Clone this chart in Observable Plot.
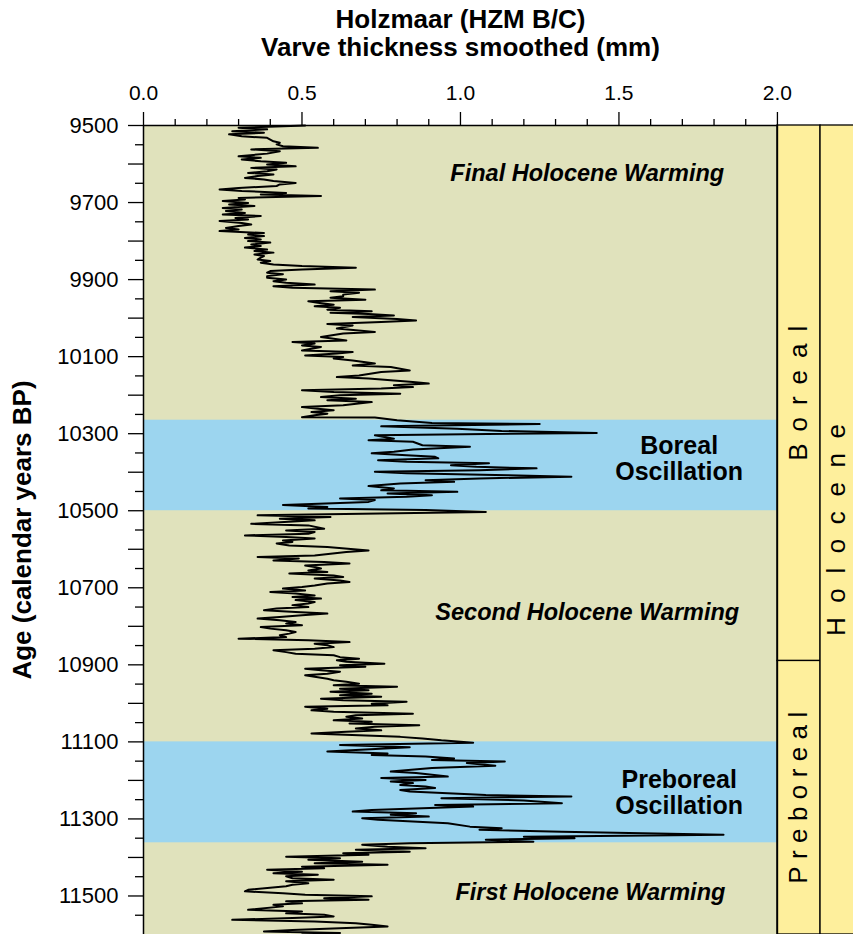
<!DOCTYPE html>
<html><head><meta charset="utf-8">
<script src="https://cdn.jsdelivr.net/npm/d3@7"></script>
<script src="https://cdn.jsdelivr.net/npm/@observablehq/plot@0.6"></script>
<style>
body{margin:0;background:#fff;}
#chart svg{display:block;}
</style></head><body><div id="chart"></div>
<script>
// ---- data: [age (calendar years BP), smoothed varve thickness (mm)] ----
const finalWarming = [[9500,0.51],[9506,0.30],[9510,0.39],[9515,0.28],[9519,0.38],[9523,0.27],[9528,0.31],[9532,0.39],[9541,0.41],[9545,0.43],[9549,0.42],[9554,0.44],[9558,0.55],[9562,0.34],[9567,0.43],[9573,0.39],[9580,0.30],[9584,0.37],[9588,0.31],[9593,0.37],[9597,0.45],[9601,0.39],[9606,0.48],[9610,0.34],[9614,0.42],[9619,0.39],[9623,0.33],[9627,0.41],[9631,0.36],[9636,0.32],[9640,0.38],[9644,0.41],[9649,0.48],[9653,0.43],[9657,0.42],[9662,0.30],[9666,0.24],[9670,0.31],[9675,0.45],[9679,0.37],[9683,0.56],[9688,0.30],[9692,0.32],[9696,0.25],[9701,0.33],[9705,0.27],[9709,0.35],[9714,0.25],[9718,0.31],[9722,0.26],[9727,0.32],[9731,0.25],[9735,0.37],[9740,0.29],[9744,0.33],[9748,0.24],[9753,0.31],[9757,0.34],[9761,0.30],[9766,0.26],[9770,0.30],[9774,0.24],[9779,0.38],[9783,0.33],[9787,0.38],[9792,0.32],[9796,0.37],[9800,0.33],[9804,0.40],[9809,0.34],[9813,0.37],[9817,0.32],[9822,0.39],[9826,0.35],[9830,0.41],[9835,0.35],[9839,0.38],[9843,0.37],[9848,0.36],[9852,0.40],[9856,0.37],[9861,0.41],[9865,0.50],[9869,0.67],[9874,0.50],[9878,0.40],[9882,0.39],[9886,0.44],[9891,0.39],[9895,0.39],[9900,0.45],[9904,0.41],[9908,0.45],[9913,0.54],[9917,0.41],[9921,0.47],[9926,0.73],[9930,0.59],[9934,0.68],[9939,0.63],[9943,0.63],[9947,0.59],[9952,0.70],[9956,0.52],[9960,0.55],[9965,0.60],[9969,0.54],[9973,0.62],[9978,0.58],[9982,0.72],[9986,0.59],[9989,0.71],[9993,0.79],[9997,0.66],[10002,0.80],[10006,0.86],[10010,0.75],[10015,0.58],[10019,0.66],[10027,0.61],[10036,0.73],[10040,0.63],[10049,0.56],[10058,0.64],[10062,0.47],[10066,0.54],[10071,0.50],[10075,0.56],[10084,0.50],[10088,0.66],[10092,0.61],[10097,0.51],[10101,0.63],[10105,0.60],[10110,0.66],[10118,0.73],[10123,0.66],[10127,0.78],[10136,0.84],[10140,0.75],[10149,0.68],[10153,0.61],[10157,0.71],[10162,0.79],[10166,0.85],[10170,0.90],[10174,0.79],[10179,0.85],[10183,0.75],[10187,0.50],[10192,0.60],[10196,0.81],[10200,0.62],[10205,0.56],[10209,0.67],[10213,0.58],[10218,0.72],[10226,0.63],[10231,0.50],[10235,0.55],[10239,0.60],[10244,0.53],[10248,0.58],[10252,0.54],[10257,0.50]];
const borealOscillation = [[10258,0.73],[10265,0.80],[10272,0.91],[10275,1.25],[10281,0.75],[10287,0.99],[10293,1.13],[10298,1.43],[10304,0.73],[10313,0.79],[10317,0.71],[10321,0.85],[10330,0.88],[10334,1.03],[10341,0.85],[10347,0.79],[10351,0.72],[10356,0.83],[10360,0.92],[10364,0.93],[10369,0.74],[10373,0.83],[10377,1.09],[10382,0.97],[10386,1.05],[10390,1.24],[10395,1.06],[10399,0.73],[10403,0.83],[10408,1.15],[10412,1.35],[10416,1.06],[10421,0.89],[10425,0.98],[10429,0.81],[10436,0.71],[10442,0.79],[10447,0.75],[10451,0.99],[10455,0.77],[10460,0.91],[10464,0.83],[10468,0.62],[10472,0.73],[10477,0.71],[10485,0.44],[10490,0.58],[10494,0.52],[10498,0.89],[10503,1.08]];
const secondWarming = [[10508,0.69],[10512,0.36],[10516,0.59],[10521,0.43],[10525,0.54],[10534,0.34],[10538,0.52],[10547,0.57],[10551,0.45],[10555,0.54],[10560,0.52],[10564,0.32],[10568,0.45],[10572,0.54],[10577,0.44],[10581,0.47],[10585,0.42],[10590,0.46],[10594,0.58],[10603,0.71],[10607,0.64],[10616,0.54],[10620,0.36],[10624,0.49],[10629,0.41],[10633,0.57],[10637,0.65],[10642,0.51],[10646,0.54],[10650,0.56],[10655,0.52],[10659,0.58],[10663,0.46],[10668,0.60],[10672,0.63],[10676,0.54],[10681,0.62],[10685,0.65],[10689,0.58],[10694,0.54],[10698,0.50],[10702,0.44],[10707,0.51],[10711,0.40],[10715,0.48],[10720,0.54],[10724,0.47],[10728,0.56],[10732,0.48],[10737,0.54],[10741,0.52],[10745,0.47],[10750,0.52],[10754,0.42],[10758,0.38],[10763,0.48],[10767,0.58],[10771,0.50],[10776,0.43],[10780,0.36],[10784,0.43],[10789,0.48],[10793,0.45],[10797,0.50],[10802,0.37],[10806,0.40],[10810,0.45],[10815,0.48],[10819,0.46],[10823,0.43],[10828,0.45],[10832,0.30],[10836,0.52],[10841,0.65],[10845,0.54],[10849,0.58],[10854,0.60],[10858,0.54],[10862,0.41],[10867,0.45],[10871,0.48],[10875,0.60],[10880,0.62],[10884,0.68],[10888,0.61],[10892,0.64],[10897,0.76],[10901,0.62],[10905,0.70],[10910,0.51],[10914,0.56],[10918,0.62],[10923,0.58],[10927,0.51],[10931,0.54],[10936,0.58],[10940,0.60],[10944,0.64],[10949,0.68],[10953,0.60],[10957,0.80],[10962,0.62],[10966,0.71],[10970,0.59],[10975,0.72],[10979,0.62],[10983,0.75],[10988,0.56],[10992,0.63],[10996,0.83],[11001,0.72],[11005,0.77],[11009,0.51],[11014,0.58],[11018,0.53],[11022,0.60],[11027,0.85],[11031,0.67],[11035,0.64],[11039,0.69],[11044,0.60],[11048,0.72],[11052,0.65],[11057,0.87],[11061,0.73],[11065,0.67],[11070,0.75],[11074,0.64],[11078,0.53],[11083,0.68],[11087,0.81],[11091,0.88]];
const preborealOscillation = [[11096,0.94],[11102,1.04],[11108,0.62],[11114,0.84],[11121,0.67],[11125,0.58],[11130,0.77],[11134,0.72],[11138,0.89],[11143,0.98],[11147,0.91],[11151,1.14],[11155,1.02],[11162,1.11],[11168,0.91],[11177,0.78],[11181,0.86],[11190,0.96],[11194,0.75],[11199,0.89],[11203,0.78],[11207,0.85],[11212,0.81],[11216,0.89],[11220,0.92],[11225,0.81],[11229,0.84],[11238,1.08],[11242,1.35],[11246,0.94],[11252,1.20],[11259,1.32],[11264,0.92],[11268,1.04],[11277,0.72],[11281,0.66],[11285,0.86],[11289,0.78],[11294,0.90],[11298,0.69],[11302,0.74],[11311,0.96],[11320,1.03],[11324,1.13],[11328,1.06],[11333,1.32],[11341,1.83],[11346,1.20],[11350,1.36],[11354,1.08],[11359,1.23],[11363,0.84]];
const firstWarming = [[11367,0.69],[11372,0.77],[11376,0.89],[11380,0.67],[11385,0.84],[11389,0.63],[11393,0.71],[11398,0.45],[11402,0.62],[11406,0.52],[11411,0.69],[11415,0.54],[11419,0.77],[11424,0.50],[11428,0.57],[11432,0.39],[11437,0.50],[11441,0.41],[11445,0.55],[11449,0.45],[11454,0.47],[11458,0.60],[11462,0.45],[11467,0.52],[11471,0.47],[11475,0.45],[11484,0.33],[11488,0.32],[11493,0.44],[11497,0.51],[11501,0.72],[11506,0.57],[11510,0.71],[11514,0.45],[11519,0.50],[11523,0.41],[11527,0.44],[11536,0.33],[11540,0.50],[11545,0.45],[11549,0.57],[11553,0.60],[11557,0.47],[11562,0.28],[11566,0.54],[11571,0.67],[11575,0.72],[11579,0.77],[11583,0.64],[11588,0.47],[11592,0.38],[11596,0.62],[11600,0.50]];

const oscillations = [{name: "Boreal Oscillation", start: 10265, end: 10500}, {name: "Preboreal Oscillation", start: 11100, end: 11362}];
const chronozones = [{name: "Boreal", start: 9500, end: 10890}, {name: "Preboreal", start: 10890, end: 11600}];
const epochs = [{name: "Holocene", start: 9500, end: 11600}];
const annotations = [
  {label: "Final Holocene Warming", x: 1.40, age: 9625, italic: true},
  {label: "Boreal\nOscillation", x: 1.69, age: 10366, italic: false},
  {label: "Second Holocene Warming", x: 1.40, age: 10763, italic: true},
  {label: "Preboreal\nOscillation", x: 1.69, age: 11233, italic: false},
  {label: "First Holocene Warming", x: 1.41, age: 11492, italic: true}
];
const xMajorTicks = [0, 0.5, 1.0, 1.5, 2.0];
const xMinorTicks = [0.1,0.2,0.3,0.4,0.6,0.7,0.8,0.9,1.1,1.2,1.3,1.4,1.6,1.7,1.8,1.9];
const yMajorTicks = [9500,9600,9700,9800,9900,10000,10100,10200,10300,10400,10500,10600,10700,10800,10900,11000,11100,11200,11300,11400,11500];
const yMinorTicks = [9550,9650,9750,9850,9950,10050,10150,10250,10350,10450,10550,10650,10750,10850,10950,11050,11150,11250,11350,11450,11550];
const yTickLabels = [9500,9700,9900,10100,10300,10500,10700,10900,11100,11300,11500];
const titleLines = ["Holzmaar (HZM B/C)", "Varve thickness smoothed (mm)"];
const yTitle = "Age (calendar years BP)";

// ---- layout / style ----
const ageMin = 9500, ageMax = 11600, xMax = 2.0;
const colSplit = 2.136, colEnd = 2.3;
const olive = "#e0e2bc", blue = "#9cd5ef", yellow = "#feef9c";
const font = "Liberation Sans, Arial, Helvetica, sans-serif";
const varve = [...finalWarming, ...borealOscillation, ...secondWarming, ...preborealOscillation, ...firstWarming];

const plot = Plot.plot({
  width: 853, height: 934,
  marginTop: 125, marginLeft: 143, marginRight: 0, marginBottom: 0,
  style: {fontFamily: font, background: "white", color: "black", overflow: "visible"},
  x: {domain: [0, 2.24], axis: null},
  y: {domain: [ageMin, ageMax], reverse: true, axis: null},
  marks: [
    Plot.rect([0], {x1: () => 0, x2: () => xMax, y1: () => ageMin, y2: () => ageMax, fill: olive}),
    Plot.rect(oscillations, {x1: () => 0, x2: () => xMax, y1: "start", y2: "end", fill: blue}),
    Plot.rect(chronozones, {x1: () => xMax, x2: () => colSplit, y1: "start", y2: "end", fill: yellow, stroke: "black", strokeWidth: 1.3}),
    Plot.rect(epochs, {x1: () => colSplit, x2: () => colEnd, y1: "start", y2: "end", fill: yellow, stroke: "black", strokeWidth: 1.3}),
    Plot.line(varve, {x: d => d[1], y: d => d[0], stroke: "black", strokeWidth: 2}),
    Plot.ruleX([0, xMax], {y1: ageMin, y2: ageMax, stroke: "black", strokeWidth: 1.5}),
    Plot.ruleY([ageMin], {x1: 0, x2: xMax, stroke: "black", strokeWidth: 1.5}),
    Plot.axisX(xMajorTicks, {anchor: "top", tickSize: 14, tickPadding: 12, strokeWidth: 1.3, fontSize: 21, fontWeight: "normal", tickFormat: d3.format(".1f"), label: null}),
    Plot.axisX(xMinorTicks, {anchor: "top", tickSize: 7, strokeWidth: 1.3, tickFormat: () => "", label: null}),
    Plot.axisY(yMajorTicks, {anchor: "left", tickSize: 15, tickPadding: 10, strokeWidth: 1.3, fontSize: 22, fontWeight: "normal", tickFormat: d => yTickLabels.includes(d) ? String(d) : "", label: null}),
    Plot.axisY(yMinorTicks, {anchor: "left", tickSize: 8, strokeWidth: 1.3, tickFormat: () => "", label: null}),
    Plot.text([titleLines[0]], {x: () => 1.0, frameAnchor: "top", lineAnchor: "middle", dy: -106, fontSize: 26, fontWeight: "bold", text: d => d}),
    Plot.text([titleLines[1]], {x: () => 1.0, frameAnchor: "top", lineAnchor: "middle", dy: -78, fontSize: 26, fontWeight: "bold", text: d => d}),
    Plot.text([yTitle], {frameAnchor: "left", textAnchor: "middle", lineAnchor: "middle", dx: -121, rotate: -90, fontSize: 26, fontWeight: "bold", text: d => d}),
    Plot.text(annotations.filter(d => d.italic), {x: "x", y: "age", text: "label", fontSize: 23.5, fontWeight: "bold", fontStyle: "italic"}),
    Plot.text(annotations.filter(d => !d.italic), {x: "x", y: "age", text: "label", fontSize: 25, fontWeight: "bold", lineHeight: 1.03}),
    Plot.text(chronozones, {x: () => (xMax + colSplit) / 2, y: d => (d.start + d.end) / 2, text: "name", rotate: -90, fontSize: 26}),
    Plot.text(epochs, {x: () => (colSplit + 2.24) / 2, y: d => (d.start + d.end) / 2, text: "name", rotate: -90, fontSize: 26})
  ]
});
document.getElementById("chart").appendChild(plot);
const spans = {"Boreal": 135, "Preboreal": 172, "Holocene": 212};
d3.select(plot).selectAll("text").each(function() {
  const t = this.textContent;
  if (spans[t]) d3.select(this).attr("textLength", spans[t]).attr("lengthAdjust", "spacing");
});
</script></body></html>
